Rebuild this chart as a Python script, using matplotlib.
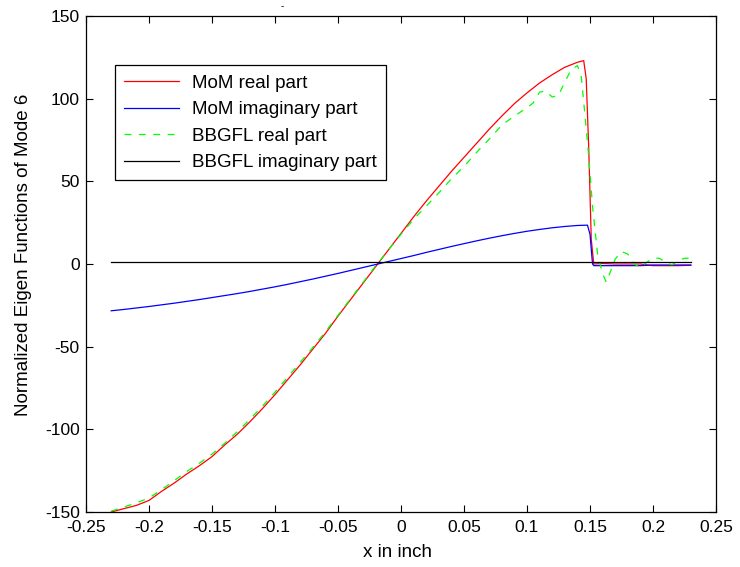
import numpy as np
import matplotlib
matplotlib.use("Agg")
import matplotlib.pyplot as plt


# MoM real part
mom_real_x = [-0.23, -0.22, -0.21, -0.20, -0.19, -0.18, -0.17, -0.16, -0.15, -0.14,
              -0.13, -0.12, -0.11, -0.10, -0.09, -0.08, -0.07, -0.06, -0.05, -0.04,
              -0.03, -0.02, -0.01, 0.00, 0.01, 0.02, 0.03, 0.04, 0.05, 0.06,
              0.07, 0.08, 0.09, 0.10, 0.11, 0.12, 0.13, 0.14, 0.145, 0.147,
              0.149, 0.151, 0.153, 0.16, 0.17, 0.18, 0.19, 0.20, 0.21, 0.22, 0.23]
mom_real_y = [-150, -148, -146, -143, -137.5, -132.5, -127, -122, -116.5, -109.5,
              -103, -95.5, -87.5, -79, -70, -61, -51.5, -42, -31.5, -21.5,
              -11.5, -1.5, 8.5, 18.5, 28.5, 38, 47, 56, 64.5, 73,
              81.5, 89.5, 97, 103.5, 109.5, 114.5, 119, 122, 123, 112,
              70, 15, 0, 0.3, 0, 0, 0, -1, -1, -1, -0.8]

# MoM imaginary part
mom_imag_x = [-0.23, -0.22, -0.21, -0.20, -0.19, -0.18, -0.17, -0.16, -0.15, -0.14,
              -0.13, -0.12, -0.11, -0.10, -0.09, -0.08, -0.07, -0.06, -0.05, -0.04,
              -0.03, -0.02, -0.01, 0.00, 0.01, 0.02, 0.03, 0.04, 0.05, 0.06,
              0.07, 0.08, 0.09, 0.10, 0.11, 0.12, 0.13, 0.14, 0.148, 0.150,
              0.152, 0.153, 0.19, 0.20, 0.23]
mom_imag_y = [-28.3, -27.5, -26.6, -25.7, -24.7, -23.7, -22.6, -21.5, -20.3, -19.1,
              -17.9, -16.6, -15.2, -13.8, -12.3, -10.7, -9.1, -7.4, -5.7, -3.9,
              -2.1, -0.3, 1.5, 3.3, 5.1, 7.0, 8.8, 10.6, 12.3, 14.0,
              15.6, 17.1, 18.5, 19.8, 20.9, 21.9, 22.7, 23.3, 23.5, 18,
              0, -1, -1, -0.6, -0.6]

# BBGFL real part
bbgfl_real_x = [-0.23, -0.22, -0.21, -0.20, -0.19, -0.18, -0.17, -0.16, -0.15, -0.14,
                -0.13, -0.12, -0.11, -0.10, -0.09, -0.08, -0.07, -0.06, -0.05, -0.04,
                -0.03, -0.02, -0.01, 0.00, 0.01, 0.02, 0.03, 0.04, 0.05, 0.06,
                0.07, 0.08, 0.09, 0.10, 0.105, 0.11, 0.115, 0.12, 0.125, 0.13,
                0.135, 0.14, 0.143, 0.146, 0.149, 0.152, 0.156, 0.16, 0.163, 0.166,
                0.17, 0.175, 0.18, 0.185, 0.19, 0.195, 0.20, 0.205, 0.21, 0.215,
                0.22, 0.225, 0.23]
bbgfl_real_y = [-149.5, -147, -144.5, -141.5, -136.5, -131, -125.5, -120.5, -115, -108.5,
                -101.5, -94, -86, -77.5, -68.5, -59.5, -50.5, -41, -31, -21,
                -11, -1, 8.5, 18, 27, 35, 43, 51.5, 59, 67.5,
                75.5, 84, 89.5, 94.5, 97.5, 104, 104.5, 101, 102, 110,
                117.5, 120, 114, 90, 65, 35, 6, -6, -11, -5,
                3, 7.5, 6, 0, -2, 1, 3.5, 3.5, 1, -0.5,
                2, 3.5, 3.5]

# BBGFL imaginary part
bbgfl_imag_x = [-0.23, 0.23]
bbgfl_imag_y = [1.0, 1.0]

legend_labels = ["MoM real part", "MoM imaginary part",
                 "BBGFL real part", "BBGFL imaginary part"]

LABEL_FS = 13.5
TICK_FS = 12.5

plt.rcParams["font.family"] = ["Liberation Sans", "DejaVu Sans"]
plt.rcParams["font.size"] = LABEL_FS
plt.rcParams["axes.unicode_minus"] = False

fig = plt.figure(figsize=(7.4, 5.67), dpi=100)
ax = fig.add_axes([86 / 740, 1 - 512 / 567, 630 / 740, 496 / 567])

ax.plot(mom_real_x, mom_real_y, color=(1, 0, 0), linewidth=0.9,
        label=legend_labels[0])
ax.plot(mom_imag_x, mom_imag_y, color=(0, 0, 1), linewidth=0.9,
        label=legend_labels[1])
ax.plot(bbgfl_real_x, bbgfl_real_y, color=(0, 1, 0), linewidth=0.9,
        linestyle=(0, (5.5, 6)), label=legend_labels[2])
ax.plot(bbgfl_imag_x, bbgfl_imag_y, color="black", linewidth=0.9,
        label=legend_labels[3])

ax.set_xlim(-0.25, 0.25)
ax.set_ylim(-150, 150)
ax.set_xticks(np.arange(-0.25, 0.2501, 0.05))
ax.set_xticklabels(["-0.25", "-0.2", "-0.15", "-0.1", "-0.05", "0",
                    "0.05", "0.1", "0.15", "0.2", "0.25"])
ax.set_yticks(np.arange(-150, 151, 50))

ax.tick_params(direction="in", top=True, right=True, length=5,
               width=0.8, labelsize=TICK_FS)
ax.tick_params(axis="x", pad=5.5)
ax.tick_params(axis="y", pad=4.5)
for spine in ax.spines.values():
    spine.set_linewidth(0.9)

ax.set_xlabel("x in inch", fontsize=LABEL_FS)
ax.set_ylabel("Normalized Eigen Functions of Mode 6", fontsize=LABEL_FS)
ax.xaxis.set_label_coords(0.4937, -0.064)
ax.yaxis.set_label_coords(-0.086, 0.518)

# stray dash above the plot area
fig.text(282 / 740, 1 - 6 / 567, "-", fontsize=7, ha="center", va="center")

leg = ax.legend(loc="upper left", bbox_to_anchor=(0.046, 0.901),
                borderaxespad=0, fontsize=LABEL_FS, handlelength=2.93,
                handletextpad=0.67, labelspacing=0.5, borderpad=0.5,
                fancybox=False, framealpha=1, edgecolor="black")
leg.get_frame().set_linewidth(0.9)

fig.savefig("out.png", dpi=100)
